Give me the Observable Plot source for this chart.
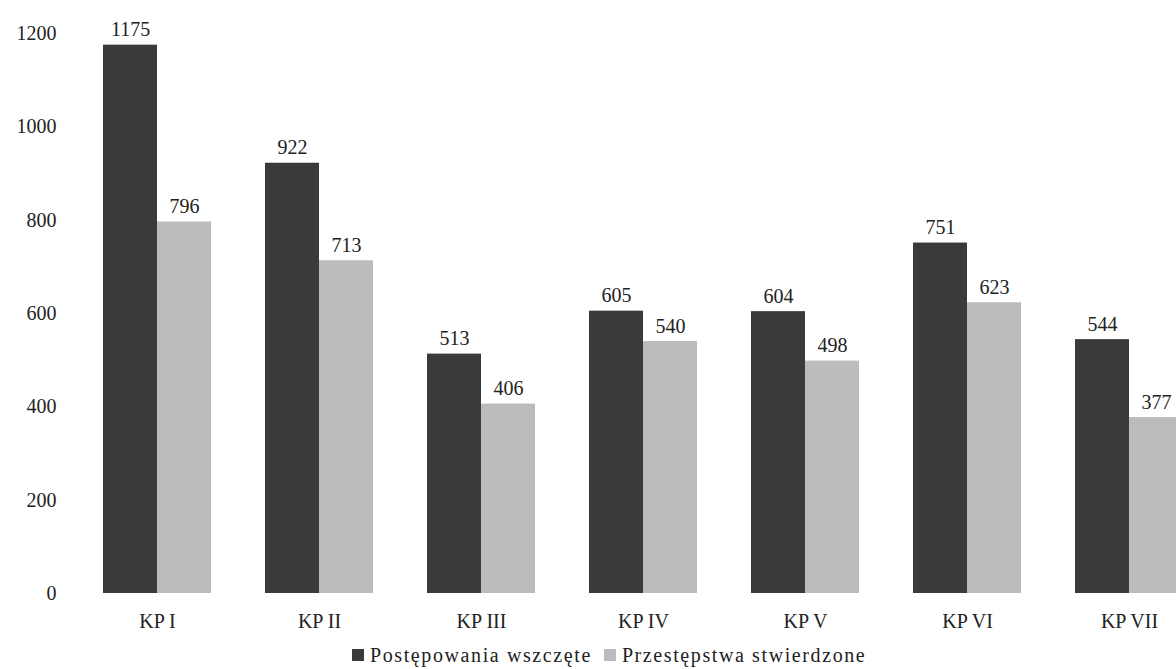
<!DOCTYPE html>
<html>
<head>
<meta charset="utf-8">
<script src="https://cdn.jsdelivr.net/npm/d3@7"></script>
<script src="https://cdn.jsdelivr.net/npm/@observablehq/plot@0.6"></script>
<style>
  html, body { margin: 0; padding: 0; background: #fff; }
  body { width: 1176px; height: 669px; overflow: hidden; font-family: "Liberation Serif", "DejaVu Serif", serif; }
  #chart svg { display: block; overflow: hidden; font-family: "Liberation Serif", serif; }
  #legend { display: flex; align-items: center; margin-left: 352px; padding-top: 5px; height: 28px; font-size: 20px; letter-spacing: 1.6px; color: #222; }
  #legend .sw { width: 12px; height: 12px; display: inline-block; margin-right: 6px; }
  #legend .item { display: flex; align-items: center; margin-right: 12px; }
</style>
</head>
<body>
<div id="chart"></div>
<div id="legend"></div>
<script>
const categories = ["KP I", "KP II", "KP III", "KP IV", "KP V", "KP VI", "KP VII"];
const seriesNames = ["Postępowania wszczęte", "Przestępstwa stwierdzone"];
const wszczete = [1175, 922, 513, 605, 604, 751, 544];
const stwierdzone = [796, 713, 406, 540, 498, 623, 377];
const yTicks = [0, 200, 400, 600, 800, 1000, 1200];
const colors = ["#3a3a3a", "#bcbcbc"];

const data = [];
categories.forEach((c, i) => {
  data.push({category: c, series: seriesNames[0], value: wszczete[i]});
  data.push({category: c, series: seriesNames[1], value: stwierdzone[i]});
});

const chart = Plot.plot({
  width: 1176,
  height: 636,
  marginTop: 33,
  marginBottom: 43,
  marginLeft: 101,
  marginRight: -8,
  style: {fontFamily: "'Liberation Serif', serif", fontSize: "20px", color: "#222", background: "#fff"},
  fx: {domain: categories, paddingInner: 0.335, paddingOuter: 0, label: null},
  x: {domain: seriesNames, padding: 0, axis: null},
  y: {domain: [0, 1200], label: null},
  color: {domain: seriesNames, range: colors},
  marks: [
    Plot.axisY(yTicks, {tickSize: 0, tickPadding: 47, fontSize: 20, label: null, tickFormat: d => String(d), fontFamily: "'Liberation Serif', serif"}),
    Plot.axisFx({anchor: "bottom", tickSize: 0, tickPadding: 20, fontSize: 20, label: null, fontFamily: "'Liberation Serif', serif"}),
    Plot.barY(data, {fx: "category", x: "series", y: "value", fill: "series"}),
    Plot.text(data, {fx: "category", x: "series", y: "value", text: d => String(d.value), lineAnchor: "bottom", dy: -9, fontSize: 20, fill: "#222", fontFamily: "'Liberation Serif', serif"})
  ]
});
document.getElementById("chart").appendChild(chart);

const legend = document.getElementById("legend");
seriesNames.forEach((s, i) => {
  const item = document.createElement("span");
  item.className = "item";
  const sw = document.createElement("span");
  sw.className = "sw";
  sw.style.background = colors[i];
  item.appendChild(sw);
  item.appendChild(document.createTextNode(s));
  legend.appendChild(item);
});
</script>
</body>
</html>
